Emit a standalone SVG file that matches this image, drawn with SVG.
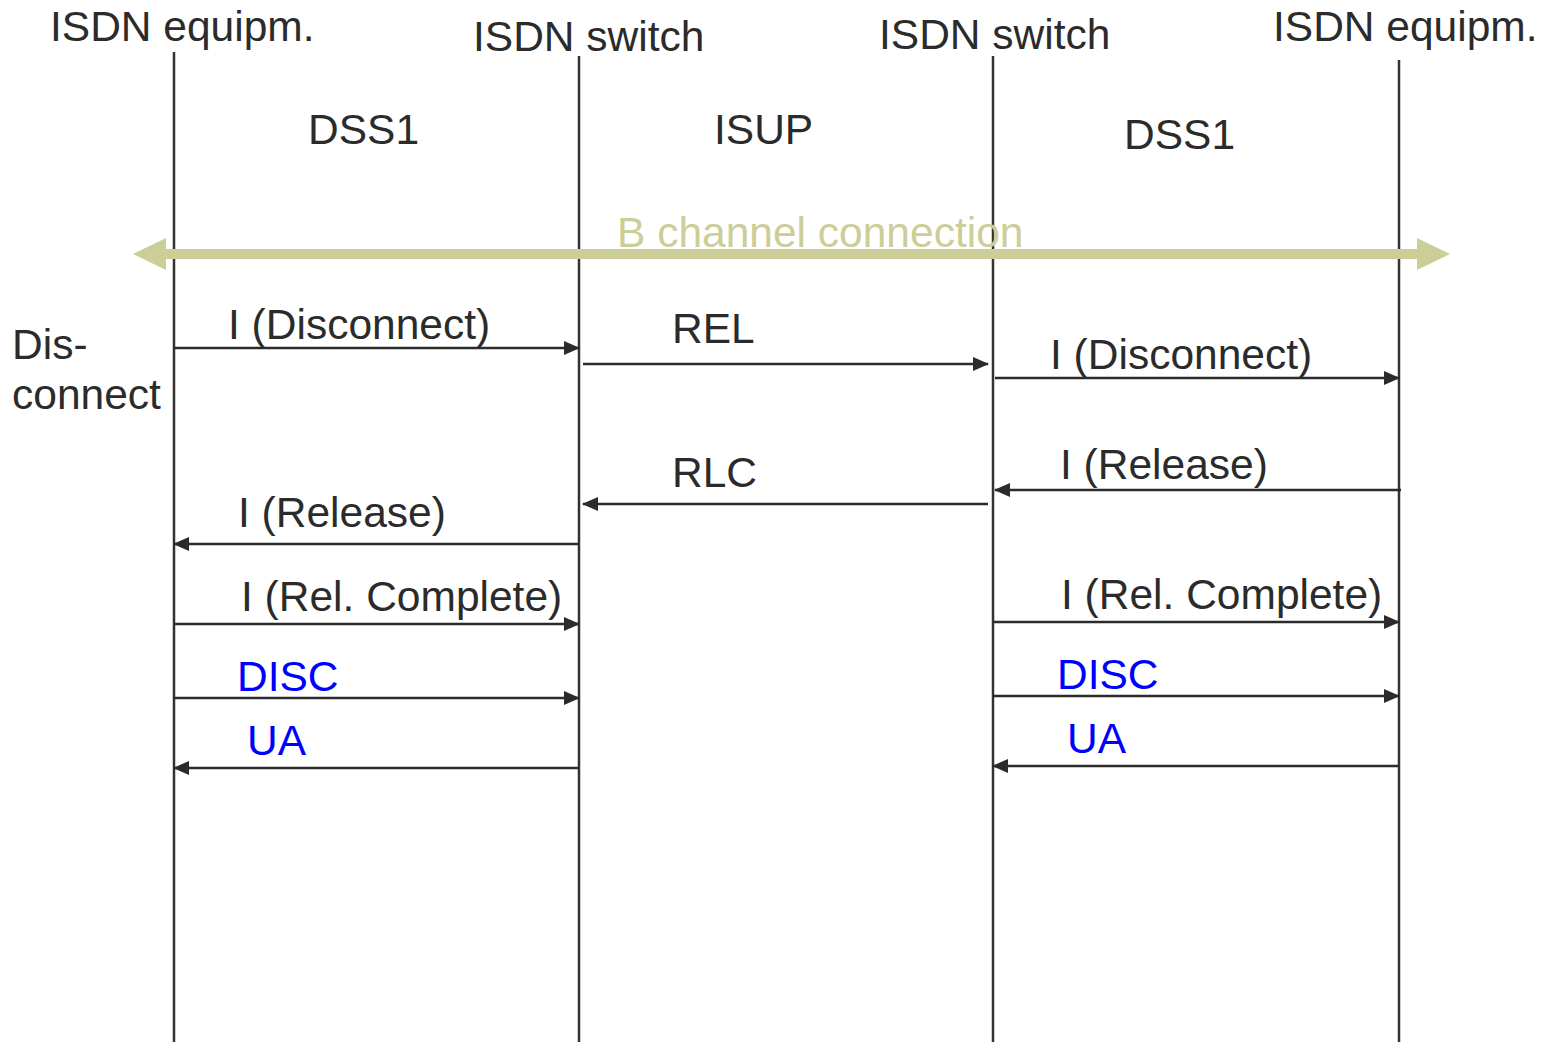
<svg xmlns="http://www.w3.org/2000/svg" width="1554" height="1042" viewBox="0 0 1554 1042">
<style>
text{font-family:"Liberation Sans",Arial,sans-serif;font-size:42.5px;fill:#2b2b2b}
.blue{fill:#0000ff}
.green{fill:#cdcd98}
.life{stroke:#333;stroke-width:2.5;fill:none}
.msg{stroke:#2b2b2b;stroke-width:2.5;fill:none;marker-end:url(#ah)}
</style>
<defs>
<marker id="ah" markerUnits="userSpaceOnUse" markerWidth="16" markerHeight="14" refX="15" refY="7" orient="auto">
<path d="M0,0 L16,7 L0,14 Z" fill="#2b2b2b"/>
</marker>
</defs>
<g id="lifelines">
<g id="n-equip-left"><text x="50" y="41">ISDN equipm.</text><line class="life" x1="174" y1="52" x2="174" y2="1042"/></g>
<g id="n-switch-left"><text x="473" y="51">ISDN switch</text><line class="life" x1="579" y1="56" x2="579" y2="1042"/></g>
<g id="n-switch-right"><text x="879" y="49">ISDN switch</text><line class="life" x1="993" y1="56" x2="993" y2="1042"/></g>
<g id="n-equip-right"><text x="1273" y="41">ISDN equipm.</text><line class="life" x1="1399" y1="60" x2="1399" y2="1042"/></g>
</g>
<g id="protocols">
<text x="308" y="144">DSS1</text>
<text x="714" y="144">ISUP</text>
<text x="1124" y="149">DSS1</text>
</g>
<g id="bchannel">
<text class="green" x="617" y="247">B channel connection</text>
<rect x="160" y="249" width="1262" height="10" fill="#cdcd98"/>
<path d="M133,254 L166,238 L166,270 Z" fill="#cdcd98"/>
<path d="M1450,254 L1417,238 L1417,270 Z" fill="#cdcd98"/>
</g>
<g id="side-label">
<text x="12" y="359">Dis-</text>
<text x="12" y="409">connect</text>
</g>
<g id="connectors">
<line class="msg" x1="174" y1="348" x2="579" y2="348"/>
<line class="msg" x1="583" y1="364" x2="988" y2="364"/>
<line class="msg" x1="995" y1="378" x2="1399" y2="378"/>
<line class="msg" x1="1401" y1="490" x2="995" y2="490"/>
<line class="msg" x1="988" y1="504" x2="583" y2="504"/>
<line class="msg" x1="579" y1="544" x2="174" y2="544"/>
<line class="msg" x1="174" y1="624" x2="579" y2="624"/>
<line class="msg" x1="993" y1="622" x2="1399" y2="622"/>
<line class="msg" x1="174" y1="698" x2="579" y2="698"/>
<line class="msg" x1="993" y1="696" x2="1399" y2="696"/>
<line class="msg" x1="579" y1="768" x2="174" y2="768"/>
<line class="msg" x1="1399" y1="766" x2="993" y2="766"/>
</g>
<g id="labels">
<text x="228" y="339">I (Disconnect)</text>
<text x="672" y="343">REL</text>
<text x="1050" y="369">I (Disconnect)</text>
<text x="1060" y="479">I (Release)</text>
<text x="672" y="487">RLC</text>
<text x="238" y="527">I (Release)</text>
<text x="241" y="611">I (Rel. Complete)</text>
<text x="1061" y="609">I (Rel. Complete)</text>
<text class="blue" x="237" y="691">DISC</text>
<text class="blue" x="1057" y="689">DISC</text>
<text class="blue" x="247" y="755">UA</text>
<text class="blue" x="1067" y="753">UA</text>
</g>
</svg>
